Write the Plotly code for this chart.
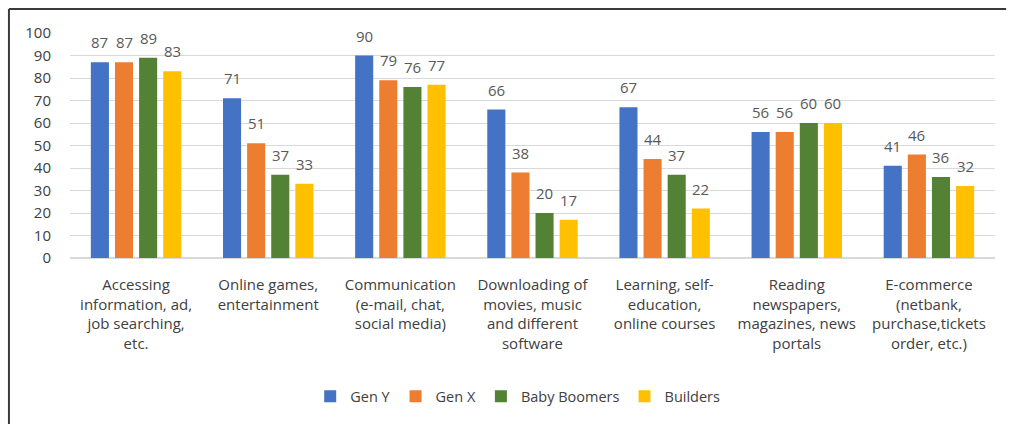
import plotly.graph_objects as go

categories = [
    "Accessing<br>information, ad,<br>job searching,<br>etc.",
    "Online games,<br>entertainment",
    "Communication<br>(e-mail, chat,<br>social media)",
    "Downloading of<br>movies, music<br>and different<br>software",
    "Learning, self-<br>education,<br>online courses",
    "Reading<br>newspapers,<br>magazines, news<br>portals",
    "E-commerce<br>(netbank,<br>purchase,tickets<br>order, etc.)",
]
gen_y = [87, 71, 90, 66, 67, 56, 41]
gen_x = [87, 51, 79, 38, 44, 56, 46]
baby_boomers = [89, 37, 76, 20, 37, 60, 36]
builders = [83, 33, 77, 17, 22, 60, 32]

series = [
    ("Gen Y", gen_y, "#4472C4"),
    ("Gen X", gen_x, "#ED7D31"),
    ("Baby Boomers", baby_boomers, "#548235"),
    ("Builders", builders, "#FFC000"),
]

W, H = 1011, 424
ML, MR, MT, MB = 70, 16, 33, 166
BARGAP = 0.27
cat_px = (W - ML - MR) / len(categories)
slot_px = cat_px * (1 - BARGAP) / len(series)

fig = go.Figure()
annotations = []
for i, (name, vals, color) in enumerate(series):
    fig.add_trace(go.Bar(
        x=categories, y=vals, name=name,
        marker=dict(color=color, line=dict(width=0)),
    ))
    shift = (i - (len(series) - 1) / 2) * slot_px
    for c, v in zip(categories, vals):
        annotations.append(dict(
            x=c, y=v, xref="x", yref="y", text=str(v), showarrow=False,
            xanchor="center", yanchor="bottom", xshift=shift, yshift=8,
            font=dict(size=15, color="#595959", family="Open Sans"),
        ))

fig.update_layout(
    barmode="group", bargap=BARGAP, bargroupgap=0.25,
    width=W, height=H,
    margin=dict(l=ML, r=MR, t=MT, b=MB),
    paper_bgcolor="white", plot_bgcolor="white",
    font=dict(family="Open Sans", color="#404040"),
    legend=dict(orientation="h", x=0.484, xanchor="center", y=-0.615, yanchor="middle",
                font=dict(size=14.5, color="#404040"), itemwidth=30,
                traceorder="normal"),
    xaxis=dict(showline=False, ticks="", tickangle=0,
               tickfont=dict(size=15, color="#404040", family="Open Sans"),
               ticklabelstandoff=16),
    yaxis=dict(range=[0, 100], dtick=10, showgrid=True, gridcolor="#D9D9D9", gridwidth=1,
               zeroline=True, zerolinecolor="#D9D9D9", showline=False,
               tickfont=dict(size=15, color="#404040"), ticklabelstandoff=18),
    annotations=annotations,
    shapes=[
        dict(type="line", xref="paper", yref="paper", x0=-0.066, x1=1.012, y0=1.107, y1=1.107,
             line=dict(color="#3a3a3a", width=2)),
        dict(type="line", xref="paper", yref="paper", x0=-0.066, x1=-0.066, y0=1.107, y1=-0.75,
             line=dict(color="#3a3a3a", width=2)),
    ],
)

fig.write_html("out.html")
